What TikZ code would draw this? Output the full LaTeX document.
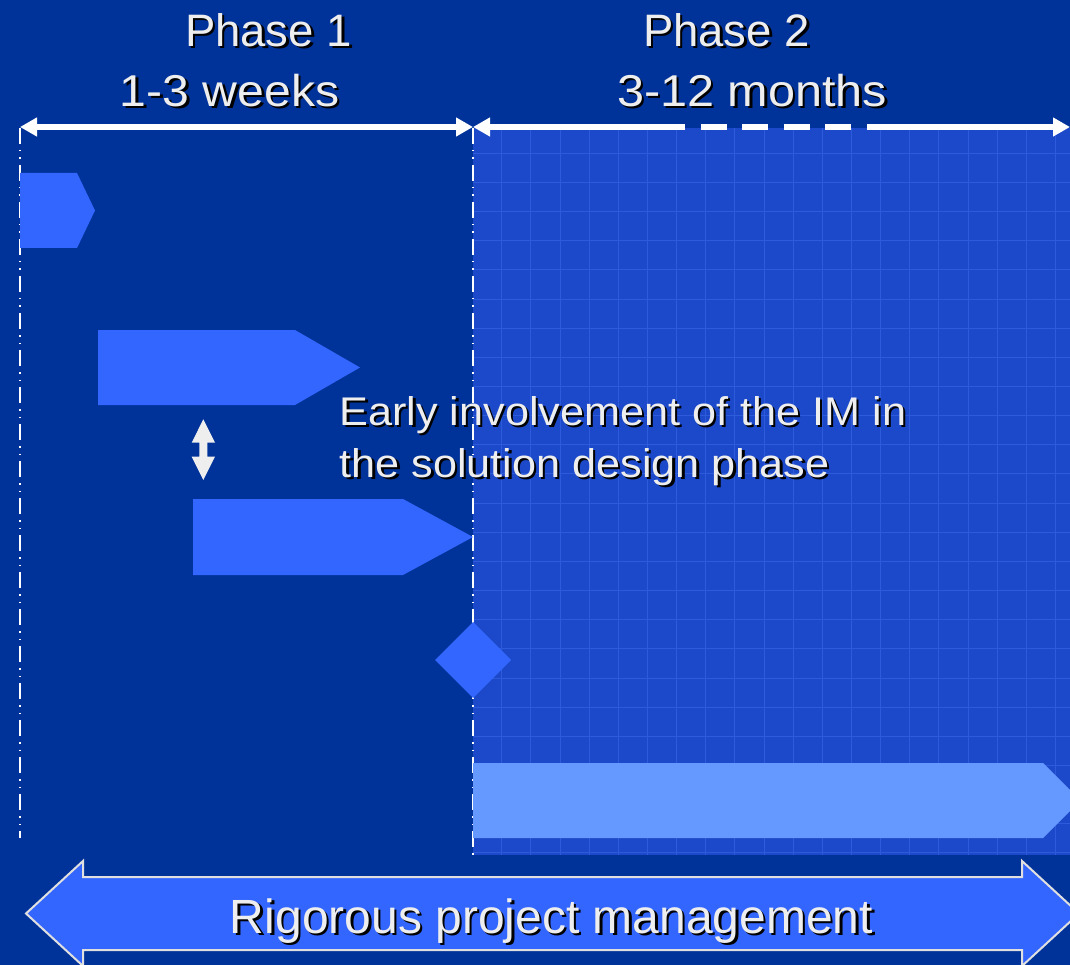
\documentclass[tikz,border=0pt]{standalone}
\usepackage{fontspec}
\usepackage{graphicx}
\setmainfont{Liberation Sans}
\usetikzlibrary{arrows.meta}
\definecolor{bgblue}{HTML}{003399}
\definecolor{gridfill}{HTML}{1C49C9}
\definecolor{gridline}{HTML}{2D5BDC}
\definecolor{blockblue}{HTML}{3366FF}
\definecolor{lightbar}{HTML}{6699FF}
\definecolor{txt}{HTML}{EEEEEE}
\definecolor{outl}{HTML}{E0E0E0}
\tikzset{
  blockshape/.style={fill=blockblue, draw=none},
  lbl/.style={inner sep=0pt, outer sep=0pt, text=txt, anchor=base west},
  shlbl/.style={inner sep=0pt, outer sep=0pt, text=black, anchor=base west},
  dashdot/.style={draw=white, line width=1.5pt,
    dash pattern=on 16pt off 6pt on 1.5pt off 6pt on 1.5pt off 6pt},
  timearrow/.style={draw=white, line width=6pt},
  mytip/.tip={Triangle[length=17pt,width=18pt]},
  gridln/.style={draw=gridline, line width=1pt},
  bigf/.style={font=\fontsize{45.5}{55}\selectfont},
  subf/.style={font=\fontsize{44.6}{55}\selectfont},
  midf/.style={font=\fontsize{40}{48}\selectfont},
  botf/.style={font=\fontsize{48}{56}\selectfont},
}
\begin{document}
\begin{tikzpicture}[x=1pt,y=-1pt]
\useasboundingbox (0,0) rectangle (1070,965);
\clip (0,0) rectangle (1070,965);
% background
\fill[bgblue] (0,0) rectangle (1070,965);
% phase 2 grid region
\fill[gridfill] (473,128) rectangle (1070,855);
\begin{scope}
  \clip (473,128) rectangle (1070,855);
  \foreach \i in {0,...,20} {
    \draw[gridln] ({501.7+29.15*\i},128) -- ({501.7+29.15*\i},855);
  }
  \foreach \j in {0,...,24} {
    \draw[gridln] (473,{153.3+29.15*\j}) -- (1070,{153.3+29.15*\j});
  }
\end{scope}
% phase boundaries
\coordinate (v1t) at (20,128);
\coordinate (v1b) at (20,838);
\coordinate (v2t) at (473,128);
\coordinate (v2b) at (473,855);
\draw[dashdot] (v1t) -- (v1b);
\draw[dashdot] (v2t) -- (v2b);
% time arrows
\coordinate (p1s) at (20,127);
\coordinate (p1e) at (473,127);
\coordinate (d1) at (685,127);
\coordinate (d2) at (867,127);
\coordinate (p2e) at (1070,127);
\draw[timearrow, mytip-mytip] (p1s) -- (p1e);
\draw[timearrow, mytip-] (p1e) -- (d1);
\draw[draw=white, line width=6pt, dash pattern=on 26pt off 15.5pt, dash phase=26pt] (d1) -- (d2);
\draw[timearrow, -mytip] (d2) -- (p2e);
% activity blocks
\fill[blockshape] (20,173) -- (77,173) -- (95,210.5) -- (77,248) -- (20,248) -- cycle;
\fill[blockshape] (98,330) -- (295,330) -- (360,367.5) -- (295,405) -- (98,405) -- cycle;
\fill[blockshape] (193,499) -- (403,499) -- (473,537) -- (403,575) -- (193,575) -- cycle;
\fill[blockshape] (473,622) -- (511,660) -- (473,698) -- (435,660) -- cycle;
\fill[lightbar] (473,763) -- (1043,763) -- (1080.5,800.5) -- (1043,838) -- (473,838) -- cycle;
% small double arrow
\fill[txt] (203.3,419.3) -- (215,442.7) -- (207.3,442.7) -- (207.3,456.7) -- (215,456.7)
  -- (203.3,480) -- (191.7,456.7) -- (199.3,456.7) -- (199.3,442.7) -- (191.7,442.7) -- cycle;
% bottom double arrow
\draw[fill=blockblue, draw=outl, line width=2pt]
  (26,913.5) -- (83,861) -- (83,877) -- (1022,877) -- (1022,861) -- (1079,913.5)
  -- (1022,966) -- (1022,950) -- (83,950) -- (83,966) -- cycle;
% texts (shadow then text)
\node[shlbl, bigf] (ph1s) at (187.5,48.5) {Phase 1};
\node[lbl, bigf] (ph1) at (185,46.5) {Phase 1};
\node[shlbl, subf] (wk1s) at (122.3,108.5) {\scalebox{1.08}[1]{1-3 weeks}};
\node[lbl, subf] (wk1) at (119.8,106.5) {\scalebox{1.08}[1]{1-3 weeks}};
\node[shlbl, bigf] (ph2s) at (645.5,49) {Phase 2};
\node[lbl, bigf] (ph2) at (643,47) {Phase 2};
\node[shlbl, subf] (mo2s) at (619.5,109) {\scalebox{1.09}[1]{3-12 months}};
\node[lbl, subf] (mo2) at (617,107) {\scalebox{1.09}[1]{3-12 months}};
\node[shlbl, midf] (e1s) at (342,427.7) {\scalebox{1.08}[1]{Early involvement of the IM in}};
\node[lbl, midf] (e1) at (339.5,425.7) {\scalebox{1.08}[1]{Early involvement of the IM in}};
\node[shlbl, midf] (e2s) at (342,479.7) {\scalebox{1.08}[1]{the solution design phase}};
\node[lbl, midf] (e2) at (339.5,477.7) {\scalebox{1.08}[1]{the solution design phase}};
\node[shlbl, botf, anchor=base] (rps) at (554,935) {Rigorous project management};
\node[lbl, botf, anchor=base] (rp) at (551.5,933) {Rigorous project management};
\end{tikzpicture}
\end{document}
